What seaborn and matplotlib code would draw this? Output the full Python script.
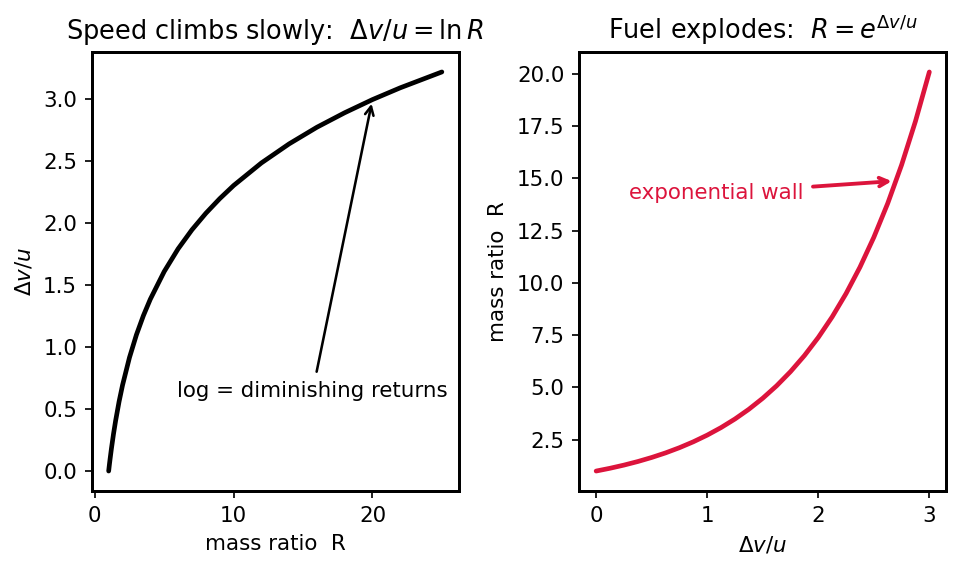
import matplotlib
matplotlib.use("Agg")
import matplotlib.pyplot as plt
import seaborn as sns

# Left panel: mass ratio R vs dv/u (ln R)
mass_ratio = [1, 1.05, 1.1, 1.2, 1.35, 1.5, 1.75, 2, 2.5, 3, 3.5, 4, 5, 6, 7, 8, 9, 10,
              12, 14, 16, 18, 20, 22, 25]
dv_left = [0.0, 0.049, 0.095, 0.182, 0.300, 0.405, 0.560, 0.693, 0.916, 1.099, 1.253,
           1.386, 1.609, 1.792, 1.946, 2.079, 2.197, 2.303, 2.485, 2.639, 2.773, 2.890,
           2.996, 3.091, 3.219]

# Right panel: dv/u vs mass ratio (e^(dv/u))
dv_right = [0.0, 0.125, 0.25, 0.375, 0.5, 0.625, 0.75, 0.875, 1.0, 1.125, 1.25, 1.375,
            1.5, 1.625, 1.75, 1.875, 2.0, 2.125, 2.25, 2.375, 2.5, 2.625, 2.75, 2.875, 3.0]
ratio_right = [1.0, 1.133, 1.284, 1.455, 1.649, 1.868, 2.117, 2.399, 2.718, 3.080, 3.490,
               3.955, 4.482, 5.078, 5.755, 6.521, 7.389, 8.373, 9.488, 10.75, 12.18,
               13.80, 15.64, 17.73, 20.09]

sns.set_style("ticks")
plt.rcParams["axes.linewidth"] = 1.4
plt.rcParams["axes.edgecolor"] = "black"
plt.rcParams["xtick.color"] = "black"
plt.rcParams["ytick.color"] = "black"
plt.rcParams["text.color"] = "black"
plt.rcParams["axes.labelcolor"] = "black"
plt.rcParams["font.family"] = ["DejaVu Sans"]

crimson = "#DC143C"
DPI = 153.6

fig, (ax1, ax2) = plt.subplots(1, 2, figsize=(959 / DPI, 567 / DPI), dpi=DPI)
fig.subplots_adjust(left=92 / 959, right=946 / 959, top=1 - 52 / 567,
                    bottom=1 - 491 / 567, wspace=0.33)

sns.lineplot(x=mass_ratio, y=dv_left, ax=ax1, color="black", linewidth=2.2)
ax1.set_title(r"Speed climbs slowly:  $\Delta v/u = \ln R$", fontsize=12)
ax1.set_xlabel("mass ratio  R")
ax1.set_ylabel(r"$\Delta v/u$")
ax1.annotate("log = diminishing returns", xy=(20, 2.996), xytext=(15.7, 0.6),
             ha="center", fontsize=10, color="black",
             arrowprops=dict(arrowstyle="->", color="black", lw=1.2))

sns.lineplot(x=dv_right, y=ratio_right, ax=ax2, color=crimson, linewidth=2.2)
ax2.set_title(r"Fuel explodes:  $R = e^{\Delta v/u}$", fontsize=12)
ax2.set_xlabel(r"$\Delta v/u$")
ax2.set_ylabel("mass ratio  R")
ax2.annotate("exponential wall", xy=(2.7, 14.88), xytext=(0.3, 14.0),
             ha="left", fontsize=10, color=crimson,
             arrowprops=dict(arrowstyle="->", color=crimson, lw=1.8))

fig.savefig("out.png", dpi=DPI)
